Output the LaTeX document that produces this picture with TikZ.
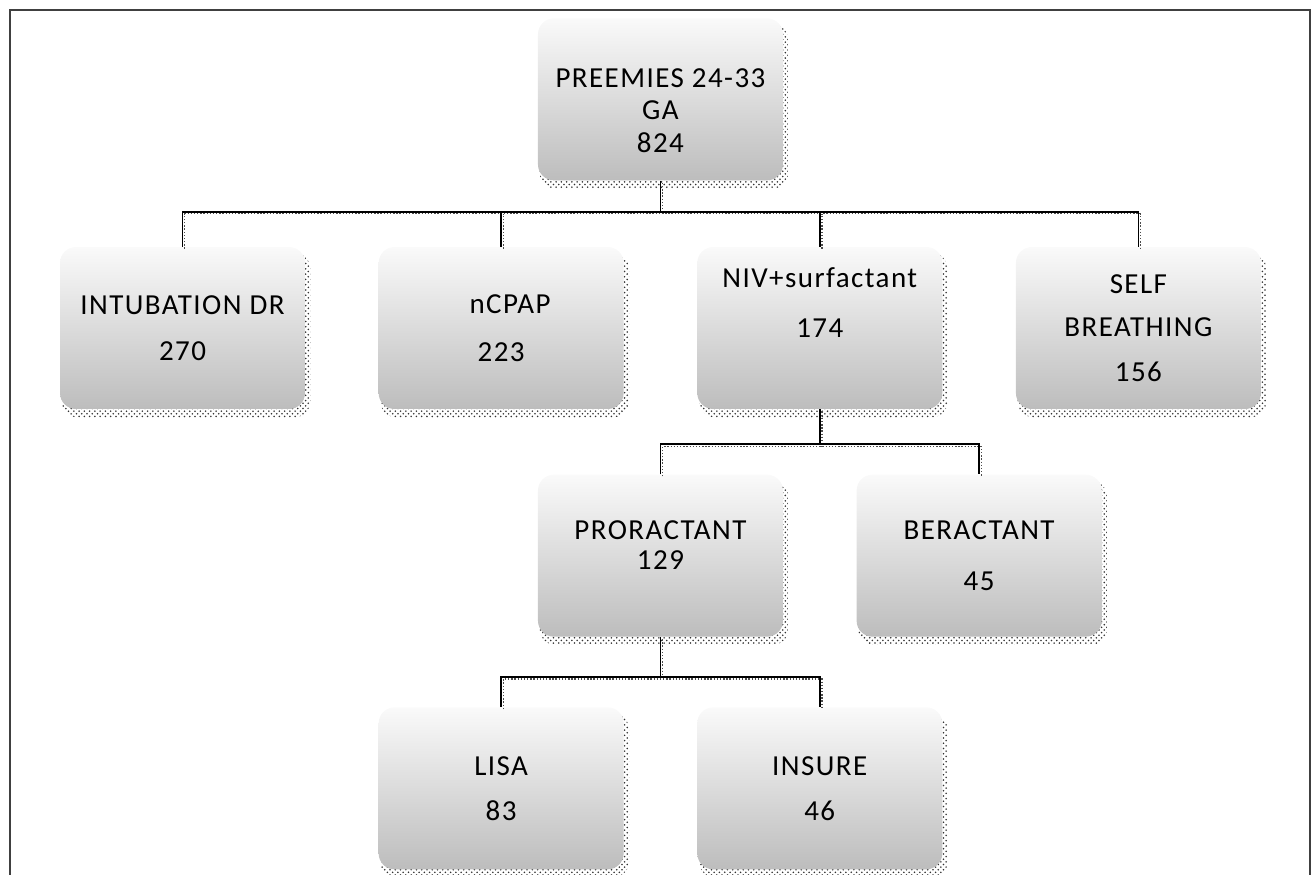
\documentclass[tikz,border=0pt]{standalone}
\usepackage{fontspec}
\setmainfont{Carlito}[LetterSpace=5]
\usetikzlibrary{positioning,calc,shadows,patterns}

\begin{document}
\begin{tikzpicture}[x=0.02cm,y=-0.02cm,node distance=1.46cm,
	box/.style={rectangle,rounded corners=9pt,minimum width=4.9cm,minimum height=3.24cm,top color=black!2,bottom color=black!26,align=center,font=\fontsize{16.5}{18.5}\selectfont,
		drop shadow={shadow xshift=2pt,shadow yshift=-4pt,shadow scale=1.015,pattern=crosshatch dots,pattern color=black,opacity=0.8}},
	link/.style={line width=1pt,black,preaction={draw=black!70,densely dotted,line width=0.8pt,transform canvas={shift={(1.2pt,-1.2pt)}}}}]
	\useasboundingbox (0,0) rectangle (1315,875);
	\draw[black!75,line width=1.4pt] (10,875) -- (10,10) -- (1310,10) -- (1310,875);

	% second row
	\node[box] (intub) at (182.5,328) {INTUBATION DR\\[7.5pt]270};
	\node[box,right=of intub] (ncpap) {\hspace*{0.36cm}nCPAP\\[9pt]223};
	\node[box,right=of ncpap] (niv) {NIV+surfactant\\[10pt]174\\[10pt]\mbox{}};
	\node[box,right=of niv] (self) {SELF\\[6pt]BREATHING\\[7pt]156};

	% top
	\coordinate (top) at ($(ncpap.north)!0.5!(niv.north)$);
	\node[box,above=1.32cm of top] (root) {\mbox{}\\[5pt]PREEMIES 24-33\\GA\\824};

	% third and fourth row
	\coordinate (mid1) at ($(ncpap.south)!0.5!(niv.south)$);
	\coordinate (mid2) at ($(niv.south)!0.5!(self.south)$);
	\node[box,below=1.3cm of mid1] (prorac) {PRORACTANT\\[-1.5pt]129\\[-6pt]\mbox{}};
	\node[box,below=1.3cm of mid2] (berac) {BERACTANT\\[10.5pt]45};
	\coordinate (low1) at (ncpap.south |- prorac.south);
	\coordinate (low2) at (niv.south |- prorac.south);
	\node[box,below=1.4cm of low1] (lisa) {LISA\\[7pt]83};
	\node[box,below=1.4cm of low2] (insure) {INSURE\\[7pt]46};

	% connectors
	\draw[link] (root.south) -- ++(0,31) coordinate (j1);
	\draw[link] (intub.north) |- (j1) -- (self.north |- j1) -- (self.north);
	\draw[link] (ncpap.north) -- (ncpap.north |- j1);
	\draw[link] (niv.north) -- (niv.north |- j1);

	\draw[link] (niv.south) -- ++(0,35) coordinate (j2);
	\draw[link] (prorac.north) |- (j2) -- (berac.north |- j2) -- (berac.north);

	\draw[link] (prorac.south) -- ++(0,40) coordinate (j3);
	\draw[link] (lisa.north) |- (j3) -- (insure.north |- j3) -- (insure.north);
\end{tikzpicture}
\end{document}
